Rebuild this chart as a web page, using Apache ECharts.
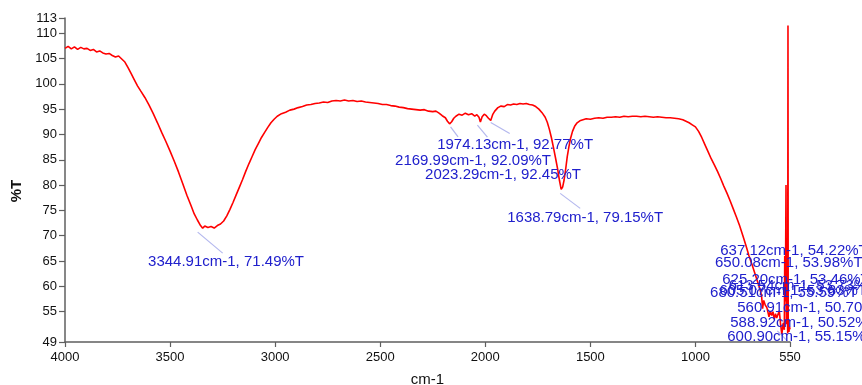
<!DOCTYPE html>
<html><head><meta charset="utf-8">
<script src="https://cdn.jsdelivr.net/npm/echarts@6/dist/echarts.min.js"></script>
<style>html,body{margin:0;padding:0;background:#fff}#c{width:862px;height:385px}</style>
</head><body><div id="c"></div>
<script>
// ---- data ----
const wavenumbers = [4000,3985,3970,3955,3940,3925,3910,3895,3880,3865,3850,3835,3820,3805,3790,3775,3760,3745,3730,3715,3700,3685,3670,3655,3640,3620,3600,3580,3560,3540,3520,3500,3480,3460,3440,3420,3400,3385,3370,3355,3344.91,3335,3320,3305,3290,3275,3260,3245,3230,3215,3200,3185,3170,3155,3140,3125,3110,3095,3080,3065,3050,3035,3020,3005,2990,2970,2950,2930,2910,2890,2870,2850,2830,2810,2790,2770,2750,2730,2710,2690,2670,2650,2630,2610,2590,2570,2550,2530,2510,2490,2470,2450,2430,2410,2390,2370,2350,2330,2310,2290,2270,2250,2235,2220,2205,2190,2180,2169.99,2160,2150,2140,2125,2110,2095,2080,2065,2050,2040,2030,2023.29,2015,2005,1995,1985,1974.13,1965,1955,1940,1925,1910,1895,1880,1865,1850,1835,1820,1805,1790,1775,1760,1745,1730,1715,1705,1695,1685,1675,1665,1655,1647,1638.79,1632,1625,1617,1610,1602,1595,1585,1575,1563,1550,1535,1520,1500,1480,1460,1440,1420,1400,1380,1360,1340,1320,1300,1280,1260,1240,1220,1200,1180,1160,1140,1120,1100,1080,1060,1045,1030,1015,1000,985,970,955,940,925,910,895,880,865,850,835,820,805,790,775,760,745,730,715,705,692,685,680.51,675,668,660,655,650.08,644,637.12,631,625.2,619,613.54,605.07,600.9,595,588.92,582,577,575,572,569,567,564,560.91,559.6,558.5,555,552,550];
const transmittance = [107.0,107.4,106.9,107.3,106.8,107.2,106.9,107.0,106.6,106.8,106.3,106.5,106.1,105.9,106.0,105.6,105.3,105.5,104.9,104.3,103.2,102.0,100.8,99.6,98.6,97.3,95.8,94.1,92.3,90.4,88.6,86.7,84.7,82.6,80.3,78.0,75.9,74.3,73.1,72.0,71.49,71.9,71.6,71.8,71.5,72.0,72.3,72.9,73.9,75.2,76.6,78.1,79.6,81.1,82.7,84.2,85.6,87.0,88.2,89.4,90.4,91.4,92.3,93.0,93.6,94.1,94.4,94.8,95.0,95.3,95.5,95.8,95.9,96.1,96.2,96.4,96.3,96.6,96.7,96.6,96.8,96.6,96.7,96.5,96.6,96.4,96.3,96.2,96.1,95.9,95.9,95.7,95.6,95.4,95.3,95.1,95.0,94.9,94.8,94.9,94.6,94.5,94.6,94.2,93.7,93.3,92.6,92.09,92.5,93.2,93.6,94.0,93.8,94.2,93.9,94.1,93.6,93.9,93.4,92.45,93.5,94.0,93.7,93.2,92.77,93.9,94.6,95.3,95.6,95.5,95.9,95.8,96.0,95.9,96.1,96.0,96.1,95.9,95.8,95.5,95.0,94.3,93.4,92.4,91.0,89.3,87.3,85.2,83.0,80.9,79.15,79.6,81.0,83.3,85.6,87.6,89.1,90.6,91.6,92.3,92.7,92.9,93.1,93.0,93.2,93.3,93.2,93.4,93.4,93.5,93.4,93.6,93.5,93.6,93.6,93.5,93.6,93.5,93.4,93.5,93.4,93.3,93.3,93.2,93.1,92.9,92.6,92.3,91.9,91.5,90.6,89.4,88.0,86.6,85.2,84.0,82.7,81.3,79.8,78.4,76.9,75.3,73.7,72.0,70.1,68.1,66.0,64.2,62.3,61.0,59.3,58.0,55.59,57.2,56.3,55.8,54.9,53.98,55.1,54.22,55.0,53.46,54.6,53.73,53.83,55.15,52.6,50.52,52.8,51.4,66.0,57.0,80.0,52.5,58.0,50.7,111.5,53.0,51.0,52.0,51.5];

const xTickValues = [4000,3500,3000,2500,2000,1500,1000,550];
const yTickValues = [49,55,60,65,70,75,80,85,90,95,100,105,110,113];

// annotated peaks
const peakWavenumbers = [3344.91,2169.99,2023.29,1974.13,1638.79,637.12,650.08,625.20,613.54,680.51,605.07,560.91,588.92,600.90];
const peakValues      = [71.49,92.09,92.45,92.77,79.15,54.22,53.98,53.46,53.73,55.59,53.83,50.70,50.52,55.15];

// ---- layout (pixel offsets of each annotation relative to its peak) ----
const labelOffsets = [[-54.6,34],[-54.5,37],[-55.3,53],[-53.6,24.6],[-54,28.6],
  [-51.5,-64.6],[-54,-54],[-52,-40],[-48,-32],[-52.5,-15.7],[-59,-26.6],[-50.5,-25.4],[-51.6,-11.3],[-52.1,26.1]];
const leaderOffsets = [[-5,4,20,25],[1,3,8.5,13],[-3,3,7,15],[0,2,19,13],[-1,4,19,19],
  null,null,null,null,null,null,null,null,[-2,20,8,30]];

const chart = echarts.init(document.getElementById('c'), null, {renderer:'canvas'});
const axisColor = '#5f5f5f';
const labelFont = 'Liberation Sans, Arial, sans-serif';

chart.setOption({
  animation:false,
  backgroundColor:'#fff',
  grid:{left:65,right:72,top:18,bottom:43,containLabel:false,outerBoundsMode:'none'},
  xAxis:{
    type:'value', inverse:true, min:550, max:4000,
    name:'cm-1', nameLocation:'middle', nameGap:30,
    nameTextStyle:{fontSize:15,color:'#111',fontFamily:labelFont},
    axisLine:{show:true,onZero:false,lineStyle:{color:axisColor,width:1.5}},
    axisTick:{show:true,length:5,customValues:xTickValues,lineStyle:{color:axisColor,width:1.2}},
    axisLabel:{customValues:xTickValues,margin:9,fontSize:13,color:'#111',fontFamily:labelFont,
      formatter:v=>String(v)},
    splitLine:{show:false}
  },
  yAxis:{
    type:'value', min:49, max:113,
    name:'%T', nameLocation:'middle', nameGap:40,
    nameTextStyle:{fontSize:15,fontWeight:'bold',color:'#111',fontFamily:labelFont,padding:[0,22,0,0]},
    axisLine:{show:true,onZero:false,lineStyle:{color:axisColor,width:1.5}},
    axisTick:{show:true,length:6,customValues:yTickValues,lineStyle:{color:axisColor,width:1.2}},
    axisLabel:{customValues:yTickValues,margin:8,fontSize:13,color:'#111',fontFamily:labelFont,
      formatter:v=>String(v)},
    splitLine:{show:false}
  },
  series:[{
    type:'line',
    data:wavenumbers.map((w,i)=>[w,transmittance[i]]),
    showSymbol:false, symbol:'none',
    lineStyle:{color:'#ff0000',width:1.6},
    clip:false
  }]
});

// annotations placed through the chart's own scales
const graphics = [];
peakWavenumbers.forEach((w,i)=>{
  const p = chart.convertToPixel({gridIndex:0},[w,peakValues[i]]);
  const lo = leaderOffsets[i];
  if(lo){
    graphics.push({type:'line',z:90,shape:{x1:p[0]+lo[0],y1:p[1]+lo[1],x2:p[0]+lo[2],y2:p[1]+lo[3]},
      style:{stroke:'#b4b8ee',lineWidth:1.2}});
  }
});
peakWavenumbers.forEach((w,i)=>{
  const p = chart.convertToPixel({gridIndex:0},[w,peakValues[i]]);
  const off = labelOffsets[i];
  graphics.push({type:'text',z:100,x:p[0]+off[0],y:p[1]+off[1],
    style:{text:w.toFixed(2)+'cm-1, '+peakValues[i].toFixed(2)+'%T',fill:'#2020cc',
      font:'15px '+labelFont,align:'left',verticalAlign:'middle'}});
});
chart.setOption({graphic:graphics});
</script>
</body></html>
